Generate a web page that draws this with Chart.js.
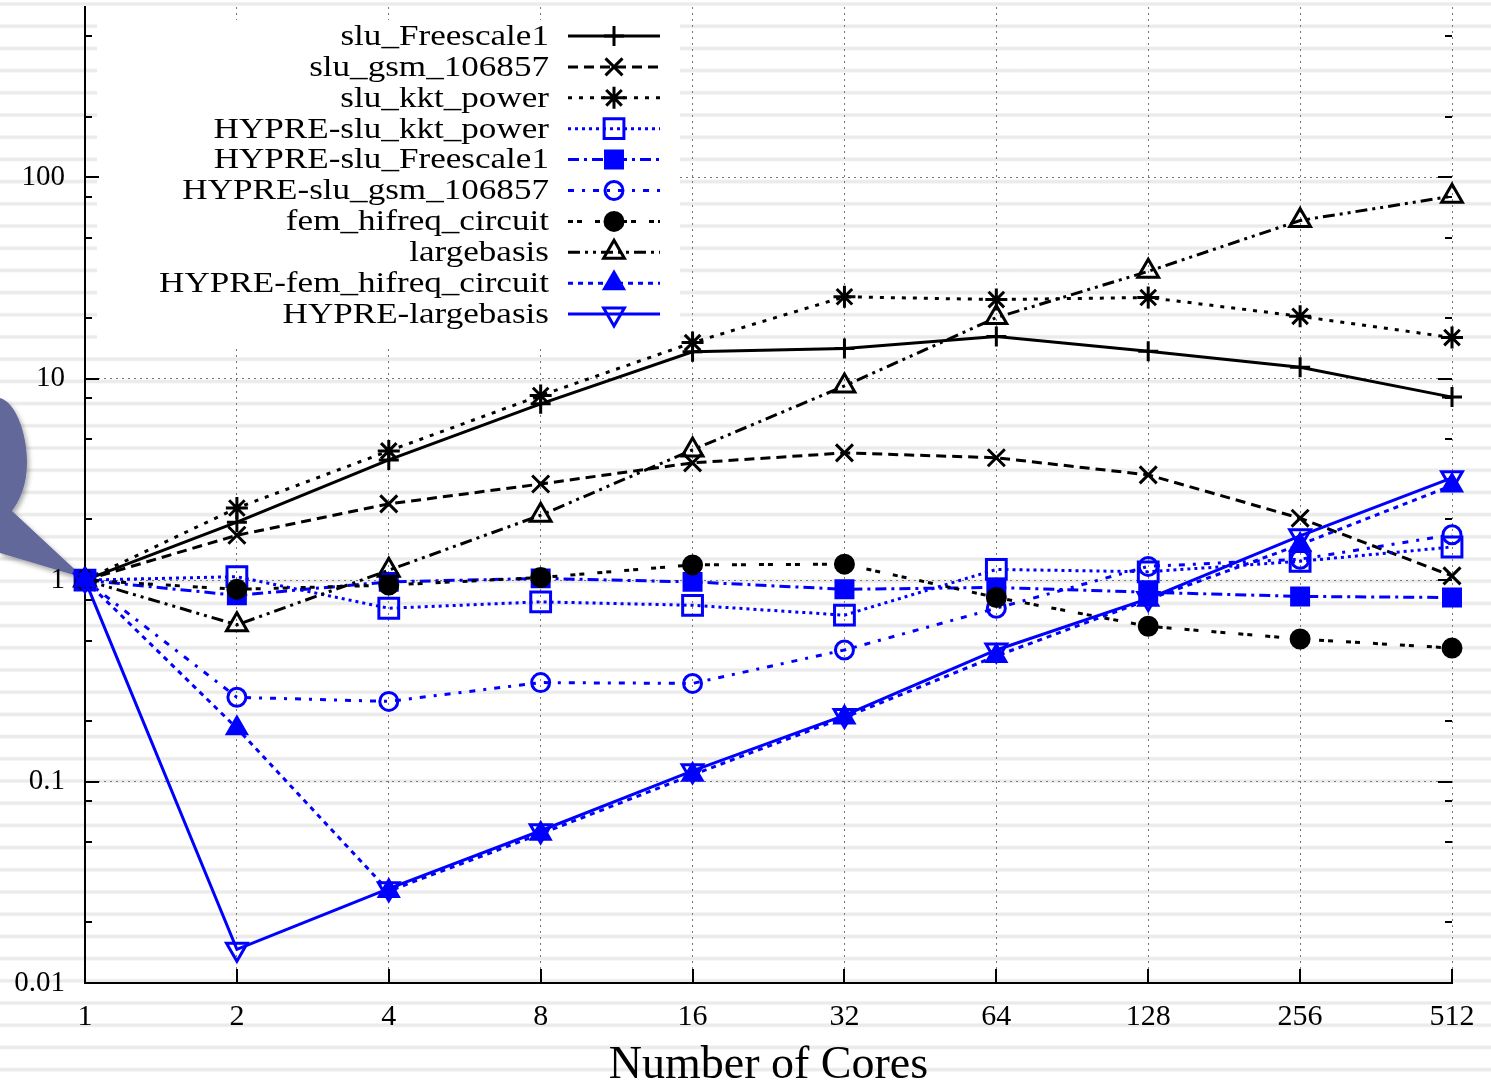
<!DOCTYPE html>
<html lang="en">
<head>
  <meta charset="UTF-8">
  <title>Speedup vs Number of Cores</title>
  <script src="https://cdn.jsdelivr.net/npm/chart.js"></script>
  <style>
    html, body { margin: 0; padding: 0; }
    body {
      width: 1491px; height: 1081px; overflow: hidden; position: relative;
      background: repeating-linear-gradient(to bottom, #fff 0px, #fff 1.5px, #ebebeb 3px, #ebebeb 5px, #fff 6.5px, #fff 22.2px);
    }
    #bubble, #chart { position: absolute; left: 0; top: 0; }
  </style>
</head>
<body>
  <svg id="bubble" width="120" height="620">
    <defs>
      <filter id="sh" x="-30%" y="-30%" width="160%" height="160%">
        <feDropShadow dx="2" dy="3" stdDeviation="2.5" flood-color="#000" flood-opacity="0.35"/>
      </filter>
    </defs>
    <path d="M0,398 C15,402 27,432 27,462 C27,485 20,500 12,511 L84,578 L0,553 Z" fill="#63679b" filter="url(#sh)"/>
  </svg>
  <canvas id="chart" width="1491" height="1081"></canvas>

  <script>
    // x categories (number of cores)
    const cores = ['1', '2', '4', '8', '16', '32', '64', '128', '256', '512'];

    // y axis labels and minor tick multipliers
    const majorTicks = [0.01, 0.1, 1, 10, 100];
    const minorSteps = [2, 5, 8];

    // series values
    const sluFreescale1   = [1, 1.94, 3.95, 7.5, 13.6, 14.1, 16.2, 13.7, 11.4, 8.1];
    const sluGsm          = [1, 1.67, 2.39, 3.0, 3.82, 4.28, 4.05, 3.33, 2.03, 1.05];
    const sluKktPower     = [1, 2.28, 4.38, 8.25, 15.1, 25.5, 24.7, 25.3, 20.4, 16.0];
    const hypreSluKkt     = [1, 1.04, 0.725, 0.78, 0.75, 0.67, 1.13, 1.1, 1.24, 1.46];
    const hypreSluFrees   = [1, 0.84, 0.98, 1.02, 0.98, 0.9, 0.92, 0.87, 0.83, 0.82];
    const hypreSluGsm     = [1, 0.262, 0.25, 0.31, 0.307, 0.45, 0.725, 1.17, 1.27, 1.68];
    const femHifreq       = [1, 0.9, 0.945, 1.03, 1.19, 1.2, 0.82, 0.59, 0.51, 0.46];
    const largebasis      = [1, 0.6, 1.12, 2.1, 4.43, 9.2, 20.1, 34.1, 61, 80.5];
    const hypreFemHifreq  = [1, 0.184, 0.0286, 0.055, 0.108, 0.208, 0.42, 0.8, 1.5, 2.95];
    const hypreLargebasis = [1, 0.0147, 0.0294, 0.057, 0.113, 0.213, 0.45, 0.81, 1.66, 3.22];

    const BLUE = '#0000ff';
    const BLACK = '#000000';
    const FONT = '"Liberation Serif", "Times New Roman", serif';

    // builds a gnuplot-looking line+points dataset
    function series(label, data, color, dash, style, filled, radius, rotation) {
      return {
        label: label,
        data: data,
        borderColor: color,
        backgroundColor: filled ? color : 'rgba(0,0,0,0)',
        borderWidth: 3,
        borderDash: dash,
        pointStyle: style,
        pointRadius: radius,
        pointHoverRadius: radius,
        pointBorderWidth: 3,
        pointBorderColor: color,
        pointBackgroundColor: filled ? color : 'rgba(0,0,0,0)',
        pointRotation: rotation || 0,
        tension: 0,
        fill: false,
        clip: false
      };
    }

    const datasets = [
      series('slu_Freescale1', sluFreescale1, BLACK, [], 'cross', false, 10),
      series('slu_gsm_106857', sluGsm, BLACK, [10, 6], 'crossRot', false, 12),
      series('slu_kkt_power', sluKktPower, BLACK, [4, 7], 'star', false, 11),
      series('HYPRE-slu_kkt_power', hypreSluKkt, BLUE, [3, 4], 'rect', false, 14),
      series('HYPRE-slu_Freescale1', hypreSluFrees, BLUE, [11, 5, 3, 5], 'rect', true, 12),
      series('HYPRE-slu_gsm_106857', hypreSluGsm, BLUE, [6, 8, 3, 8], 'circle', false, 9),
      series('fem_hifreq_circuit', femHifreq, BLACK, [5, 4, 5, 13], 'circle', true, 9),
      series('largebasis', largebasis, BLACK, [12, 5, 3, 5, 3, 5], 'triangle', false, 12),
      series('HYPRE-fem_hifreq_circuit', hypreFemHifreq, BLUE, [5, 5], 'triangle', true, 11),
      series('HYPRE-largebasis', hypreLargebasis, BLUE, [], 'triangle', false, 12, 180)
    ];
    // later series on top, like gnuplot
    datasets.forEach((d, i) => { d.order = datasets.length - 1 - i; });

    const yTickValues = [];
    majorTicks.forEach(m => {
      yTickValues.push(m);
      minorSteps.forEach(s => yTickValues.push(m * s));
    });

    // gnuplot style key box, drawn over the grid but under the data
    const keyPlugin = {
      id: 'keyBox',
      beforeDatasetsDraw(chart) {
        const ctx = chart.ctx;
        const a = chart.chartArea;
        ctx.save();
        ctx.fillStyle = '#fff';
        ctx.fillRect(a.left + 12, a.top + 13, 583, 325);

        // inward tick marks, mirrored on the right
        const ys = chart.scales.y;
        ctx.strokeStyle = '#000';
        ctx.lineWidth = 2;
        ctx.beginPath();
        yTickValues.forEach(v => {
          if (v > ys.max || v < ys.min) return;
          const len = majorTicks.includes(v) ? 14 : 7;
          const py = Math.round(ys.getPixelForValue(v));
          ctx.moveTo(a.left, py); ctx.lineTo(a.left + len, py);
          ctx.moveTo(a.right, py); ctx.lineTo(a.right - len, py);
        });
        const xs = chart.scales.x;
        cores.forEach((c, i) => {
          const px = Math.round(xs.getPixelForValue(i));
          ctx.moveTo(px, a.bottom); ctx.lineTo(px, a.bottom - 14);
        });
        ctx.stroke();
        ctx.restore();
      },
      afterDatasetsDraw(chart) {
        const ctx = chart.ctx;
        const a = chart.chartArea;
        chart.data.datasets.forEach((ds, i) => {
          const y = a.top + 29 + i * 30.9;
          ctx.save();
          // key text is set wide, as in the original figure
          ctx.save();
          ctx.translate(549, y + 1);
          ctx.scale(1.17, 1);
          ctx.font = '30px ' + FONT;
          ctx.fillStyle = '#000';
          ctx.textAlign = 'right';
          ctx.textBaseline = 'middle';
          ctx.fillText(ds.label, 0, 0);
          ctx.restore();
          ctx.strokeStyle = ds.borderColor;
          ctx.lineWidth = ds.borderWidth;
          ctx.setLineDash(ds.borderDash);
          ctx.beginPath();
          ctx.moveTo(568, y);
          ctx.lineTo(660, y);
          ctx.stroke();
          ctx.setLineDash([]);
          ctx.fillStyle = ds.pointBackgroundColor;
          ctx.strokeStyle = ds.pointBorderColor;
          ctx.lineWidth = ds.pointBorderWidth;
          Chart.helpers.drawPoint(ctx, {
            pointStyle: ds.pointStyle,
            rotation: ds.pointRotation,
            radius: ds.pointRadius,
            borderWidth: ds.pointBorderWidth
          }, 614, y);
          ctx.restore();
        });
      }
    };

    new Chart(document.getElementById('chart'), {
      type: 'line',
      data: { labels: cores, datasets: datasets },
      options: {
        responsive: false,
        animation: false,
        layout: { autoPadding: false, padding: { top: 7, right: 39, left: 0, bottom: 0 } },
        plugins: {
          legend: { display: false },
          tooltip: { enabled: false },
          title: { display: false }
        },
        scales: {
          x: {
            type: 'category',
            offset: false,
            grid: { color: '#777', lineWidth: 1, drawTicks: false, offset: false },
            border: { display: true, color: '#000', width: 2, dash: [2, 4] },
            ticks: {
              color: '#000',
              font: { family: FONT, size: 30 },
              padding: 16,
              maxRotation: 0,
              autoSkip: false
            },
            title: {
              display: true,
              text: 'Number of Cores',
              color: '#000',
              font: { family: FONT, size: 46, lineHeight: 1 },
              padding: { top: 0, bottom: -8 }
            },
            afterFit: s => { s.height = 98; s.paddingLeft = 0; s.paddingRight = 0; }
          },
          y: {
            type: 'logarithmic',
            min: 0.01,
            max: 700,
            afterBuildTicks: s => { s.ticks = yTickValues.filter(v => v <= 700).map(v => ({ value: v })); },
            grid: {
              color: c => majorTicks.includes(c.tick.value) ? '#777' : 'rgba(0,0,0,0)',
              lineWidth: 1,
              drawTicks: false
            },
            border: { display: true, color: '#000', width: 2, dash: [2, 4] },
            ticks: {
              color: '#000',
              font: { family: FONT, size: 29 },
              padding: 20,
              autoSkip: false,
              callback: v => majorTicks.includes(v) ? String(v) : ''
            },
            afterFit: s => { s.width = 85; s.paddingTop = 0; s.paddingBottom = 0; }
          }
        }
      },
      plugins: [keyPlugin]
    });
  </script>
</body>
</html>
